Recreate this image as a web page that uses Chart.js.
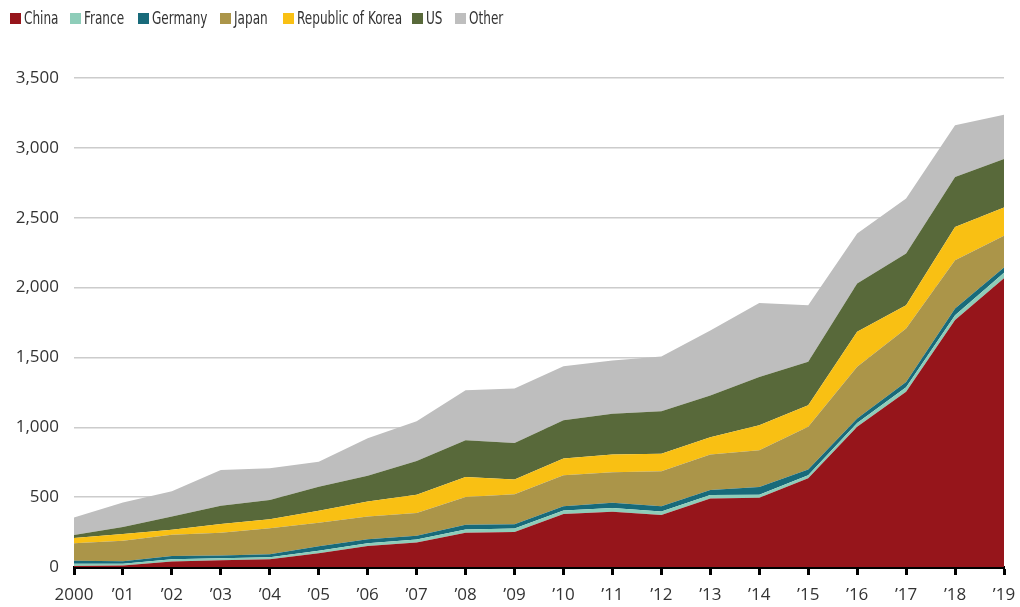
<!DOCTYPE html>
<html>
<head>
<meta charset="utf-8">
<script src="https://cdn.jsdelivr.net/npm/chart.js@4.4.1/dist/chart.umd.min.js"></script>
<style>
  html, body { margin: 0; padding: 0; background: #fff; }
  #wrap { position: relative; width: 1020px; height: 607px; }
  #legend {
    position: absolute; left: 0; top: 0; width: 600px; height: 36px;
    font-family: "Liberation Sans Narrow", "DejaVu Sans Condensed", sans-serif;
    font-size: 17px; color: #333;
  }
  #legend .item { position: absolute; top: 8px; height: 20px; display: flex; align-items: center; white-space: nowrap; }
  #legend .box { width: 11px; height: 11px; margin-right: 3px; flex: none; }
  #legend .txt { display: inline-block; transform: scaleX(0.79); transform-origin: left center; }
</style>
</head>
<body>
<div id="wrap">
  <canvas id="myChart"></canvas>
  <div id="legend"></div>
</div>
<script>
// x categories
const years = ['2000', '’01', '’02', '’03', '’04', '’05', '’06', '’07', '’08', '’09',
               '’10', '’11', '’12', '’13', '’14', '’15', '’16', '’17', '’18', '’19'];

// y axis ticks
const yTicks = [0, 500, 1000, 1500, 2000, 2500, 3000, 3500];

// series, bottom to top
const china   = [8, 10, 40, 48, 55, 98, 150, 175, 246, 250, 380, 396, 372, 490, 496, 635, 1004, 1255, 1768, 2066];
const france  = [15, 14, 16, 14, 14, 18, 20, 22, 22, 25, 25, 26, 26, 26, 22, 22, 26, 32, 34, 40];
const germany = [22, 18, 22, 21, 22, 33, 29, 26, 35, 31, 30, 38, 36, 36, 55, 41, 33, 38, 48, 38];
const japan   = [125, 145, 153, 163, 186, 167, 162, 163, 198, 214, 221, 219, 252, 253, 262, 305, 370, 382, 345, 227];
const korea   = [38, 50, 36, 62, 64, 86, 107, 132, 143, 106, 120, 127, 125, 124, 179, 155, 250, 167, 239, 203];
const us      = [21, 50, 95, 131, 139, 172, 186, 240, 263, 262, 274, 291, 303, 298, 346, 311, 346, 370, 357, 346];
const other   = [125, 174, 181, 255, 226, 179, 267, 285, 358, 389, 387, 381, 393, 465, 530, 405, 358, 394, 370, 317];

const series = [
    { label: 'China',             data: china,   color: '#96151b' },
    { label: 'France',            data: france,  color: '#8ecdb9' },
    { label: 'Germany',           data: germany, color: '#186a7a' },
    { label: 'Japan',             data: japan,   color: '#ab9549' },
    { label: 'Republic of Korea', data: korea,   color: '#f9c013' },
    { label: 'US',                data: us,      color: '#58693a' },
    { label: 'Other',             data: other,   color: '#bebebe' }
];

// legend items, left edge of each swatch
const legendX = [10, 70, 138, 220, 283, 412, 455];
const legend = document.getElementById('legend');
series.forEach(function (s, i) {
    legend.insertAdjacentHTML('beforeend',
        '<div class="item" style="left:' + legendX[i] + 'px"><span class="box" style="background:' + s.color + '"></span>' +
        '<span class="txt">' + s.label + '</span></div>');
});

const tickFont = { family: '"Open Sans", sans-serif', size: 17 };

const ctx = document.getElementById('myChart').getContext('2d');
const myChart = new Chart(ctx, {
    type: 'line',
    data: {
        labels: years,
        datasets: series.map(function (s, i) {
            return {
                label: s.label,
                data: s.data,
                backgroundColor: s.color,
                borderWidth: 0,
                pointRadius: 0,
                tension: 0,
                fill: i === 0 ? 'origin' : '-1'
            };
        })
    },
    options: {
        responsive: true,
        maintainAspectRatio: false,
        animation: false,
        layout: { padding: { top: 78, right: 16, bottom: 0, left: 0 } },
        plugins: {
            legend: { display: false },
            tooltip: { enabled: false }
        },
        scales: {
            x: {
                z: 1,
                offset: false,
                border: { display: true, color: '#000', width: 3 },
                grid: {
                    drawOnChartArea: false,
                    drawTicks: true,
                    tickLength: 8,
                    tickWidth: 3,
                    tickColor: '#000'
                },
                ticks: { color: '#333', font: tickFont, padding: 10, maxRotation: 0, autoSkip: false },
                afterFit: function (scale) {
                    scale.height = 40;
                    // labels may hang past the plot edges
                    scale.paddingLeft = 0;
                    scale.paddingRight = 0;
                }
            },
            y: {
                stacked: true,
                min: 0,
                max: 3500,
                border: { display: false },
                grid: { color: '#cccccc', lineWidth: 1.5, drawTicks: false },
                afterBuildTicks: function (scale) {
                    scale.ticks = yTicks.map(function (v) { return { value: v }; });
                },
                ticks: {
                    color: '#333',
                    font: tickFont,
                    padding: 15,
                    callback: function (v) { return v.toLocaleString('en-US'); }
                },
                afterFit: function (scale) { scale.width = 74; }
            }
        }
    }
});
</script>
</body>
</html>
